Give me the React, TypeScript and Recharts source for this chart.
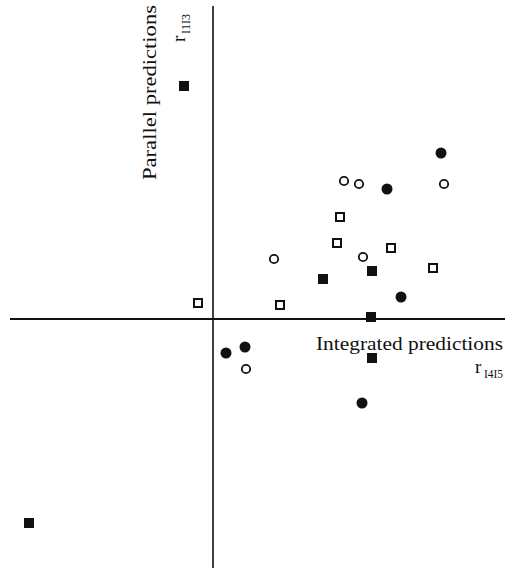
import React from 'react';
import { ScatterChart, Scatter, XAxis, YAxis, ReferenceLine, Customized } from 'recharts';

// values (correlation units, origin where the axes cross)
const filledSquares = [
    { x: -0.058, y: 0.466 },
    { x: 0.22, y: 0.08 },
    { x: 0.318, y: 0.096 },
    { x: 0.316, y: 0.004 },
    { x: 0.318, y: -0.078 },
    { x: -0.368, y: -0.408 },
];

const openSquares = [
    { x: -0.03, y: 0.032 },
    { x: 0.134, y: 0.028 },
    { x: 0.254, y: 0.204 },
    { x: 0.248, y: 0.152 },
    { x: 0.356, y: 0.142 },
    { x: 0.44, y: 0.102 },
];

const filledCircles = [
    { x: 0.456, y: 0.332 },
    { x: 0.348, y: 0.26 },
    { x: 0.376, y: 0.044 },
    { x: 0.026, y: -0.068 },
    { x: 0.064, y: -0.056 },
    { x: 0.298, y: -0.168 },
];

const openCircles = [
    { x: 0.262, y: 0.276 },
    { x: 0.292, y: 0.27 },
    { x: 0.462, y: 0.27 },
    { x: 0.122, y: 0.12 },
    { x: 0.3, y: 0.124 },
    { x: 0.066, y: -0.1 },
];

const xDomain = [-0.426, 0.584];
const yDomain = [-0.498, 0.638];

const INK = '#111111';
const FONT = '"Liberation Serif", "DejaVu Serif", serif';

const SquareFilled = (p: any) => (
    <rect x={p.cx - 5} y={p.cy - 5} width={10} height={10} fill={INK} />
);
const SquareOpen = (p: any) => (
    <rect x={p.cx - 4} y={p.cy - 4} width={8} height={8} fill="#fff" stroke={INK} strokeWidth={2} />
);
const CircleFilled = (p: any) => <circle cx={p.cx} cy={p.cy} r={5.5} fill={INK} />;
const CircleOpen = (p: any) => (
    <circle cx={p.cx} cy={p.cy} r={4.2} fill="#fff" stroke={INK} strokeWidth={1.8} />
);

const AxisTitles = () => (
    <g fontFamily={FONT} fill={INK}>
        <text x={316} y={350} fontSize={19} textLength={187} lengthAdjust="spacingAndGlyphs">
            Integrated predictions
        </text>
        <text x={475} y={373} fontSize={19}>r</text>
        <text x={484} y={378} fontSize={12} textLength={19} lengthAdjust="spacingAndGlyphs">I4I5</text>
        <g transform="translate(156, 180) rotate(-90)">
            <text x={0} y={0} fontSize={19} textLength={175} lengthAdjust="spacingAndGlyphs">
                Parallel predictions
            </text>
        </g>
        <g transform="translate(185, 42) rotate(-90)">
            <text x={0} y={0} fontSize={19}>r</text>
            <text x={8} y={5} fontSize={12} textLength={20} lengthAdjust="spacingAndGlyphs">I1I3</text>
        </g>
    </g>
);

export default function App() {
    return (
        <div style={{ position: 'absolute', left: 0, top: 0, background: '#fff' }}>
            <ScatterChart width={505} height={568} margin={{ top: 0, right: 0, bottom: 0, left: 0 }}>
                <XAxis type="number" dataKey="x" domain={xDomain} hide />
                <YAxis type="number" dataKey="y" domain={yDomain} hide />
                <ReferenceLine
                    segment={[{ x: -0.406, y: 0 }, { x: 0.584, y: 0 }]}
                    stroke={INK}
                    strokeWidth={2}
                />
                <ReferenceLine
                    segment={[{ x: 0, y: 0.626 }, { x: 0, y: -0.498 }]}
                    stroke={INK}
                    strokeWidth={1.6}
                />
                <Scatter data={filledSquares} shape={SquareFilled} isAnimationActive={false} />
                <Scatter data={openSquares} shape={SquareOpen} isAnimationActive={false} />
                <Scatter data={filledCircles} shape={CircleFilled} isAnimationActive={false} />
                <Scatter data={openCircles} shape={CircleOpen} isAnimationActive={false} />
                <Customized component={AxisTitles} />
            </ScatterChart>
        </div>
    );
}
